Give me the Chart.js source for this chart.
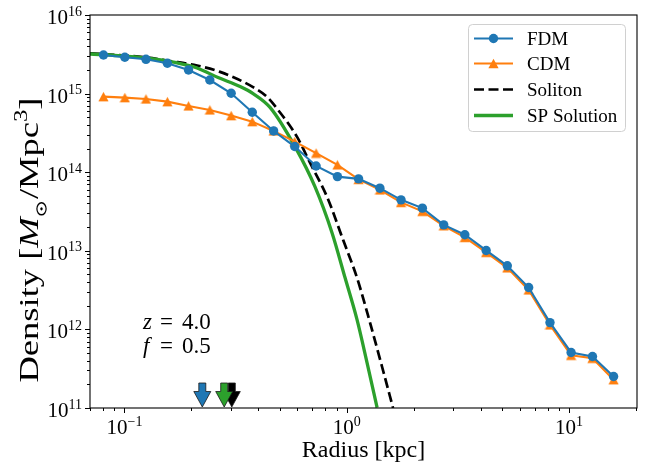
<!DOCTYPE html>
<html>
<head>
<meta charset="utf-8">
<script src="https://cdn.jsdelivr.net/npm/chart.js@4.4.1/dist/chart.umd.min.js"></script>
<style>
  html, body { margin: 0; padding: 0; background: #fff; }
  #wrap { width: 650px; height: 467px; }
</style>
</head>
<body>
<div id="wrap"><canvas id="chart" width="650" height="467"></canvas></div>
<script>
// radial bins (kpc) and density profiles (Msun / Mpc^3)
const radius = [0.0805, 0.1004, 0.1250, 0.1560, 0.1942, 0.2421, 0.3020, 0.3758, 0.4688, 0.5834,
  0.7278, 0.9078, 1.130, 1.409, 1.754, 2.188, 2.729, 3.396, 4.236, 5.272, 6.577, 8.204, 10.21, 12.74, 15.85];
const fdmDensity = [3.10e15, 2.90e15, 2.73e15, 2.43e15, 2.00e15, 1.49e15, 1.01e15, 5.79e14, 3.35e14, 2.12e14,
  1.20e14, 8.79e13, 8.22e13, 6.26e13, 4.45e13, 3.49e13, 2.14e13, 1.60e13, 1.01e13, 6.44e12, 3.41e12, 1.22e12, 5.09e11, 4.52e11, 2.52e11];
const cdmDensity = [9.15e14, 8.89e14, 8.55e14, 7.90e14, 6.97e14, 6.20e14, 5.25e14, 4.40e14, 3.35e14, 2.45e14,
  1.75e14, 1.24e14, 8.09e13, 5.95e13, 4.13e13, 3.18e13, 2.08e13, 1.48e13, 9.55e12, 6.07e12, 3.18e12, 1.14e12, 4.69e11, 4.30e11, 2.29e11];

const solitonR = [0.0700, 0.1264, 0.1603, 0.2121, 0.2692, 0.3789, 0.4381, 0.4909, 0.5976, 0.6840, 0.8154, 0.9625, 1.112, 1.273, 1.441, 1.615];
const solitonDensity = [3.26e15, 2.88e15, 2.60e15, 2.28e15, 1.89e15, 1.21e15, 9.07e14, 6.20e14, 2.81e14, 1.31e14, 4.85e13, 1.38e13, 4.53e12, 1.21e12, 3.35e11, 1.00e11];

const spR = [0.0700, 0.0936, 0.1264, 0.1689, 0.2121, 0.2637, 0.3311, 0.3789, 0.4518, 0.5855, 0.7200, 0.8588, 0.9826, 1.112, 1.234, 1.369];
const spDensity = [3.19e15, 3.04e15, 2.82e15, 2.49e15, 2.12e15, 1.60e15, 1.23e15, 1.00e15, 6.67e14, 2.10e14, 6.50e13, 1.69e13, 4.53e12, 1.33e12, 3.76e11, 1.01e11];

// core radius markers: soliton, SP solution, FDM
const arrowR = [0.304, 0.281, 0.224];

const xTickExps = [-1, 0, 1];
const yTickExps = [11, 12, 13, 14, 15, 16];
const legendLabels = ['FDM', 'CDM', 'Soliton', 'SP Solution'];
const noteVars = ['z', 'f'];
const noteVals = ['4.0', '0.5'];

const BLUE = '#1f77b4', ORANGE = '#ff7f0e', GREEN = '#2ca02c';
const SERIF = '"Liberation Serif", "DejaVu Serif", serif';

function pts(xs, ys) { return xs.map((x, i) => ({ x: x, y: ys[i] })); }

// matplotlib-like '^' marker (bbox centred)
function triangleMarker(color) {
  const c = document.createElement('canvas');
  c.width = 11; c.height = 11;
  const g = c.getContext('2d');
  g.fillStyle = color;
  g.beginPath();
  g.moveTo(5.5, 0.8); g.lineTo(10.6, 10.2); g.lineTo(0.4, 10.2);
  g.closePath(); g.fill();
  return c;
}
const triImg = triangleMarker(ORANGE);

function drawArrow(ctx, x, tip, color) {
  ctx.beginPath();
  ctx.moveTo(x - 3.5, tip - 24);
  ctx.lineTo(x + 3.5, tip - 24);
  ctx.lineTo(x + 3.5, tip - 15.5);
  ctx.lineTo(x + 8.5, tip - 15.5);
  ctx.lineTo(x, tip);
  ctx.lineTo(x - 8.5, tip - 15.5);
  ctx.lineTo(x - 3.5, tip - 15.5);
  ctx.closePath();
  ctx.fillStyle = color;
  ctx.fill();
  ctx.lineWidth = 0.8;
  ctx.strokeStyle = '#1a1a1a';
  ctx.stroke();
}

// draw a sequence of [text, font, dy, extra] pieces starting at x
function drawPieces(ctx, pieces, x, y) {
  pieces.forEach(p => {
    ctx.font = p[1];
    ctx.fillText(p[0], x, y + (p[2] || 0));
    x += ctx.measureText(p[0]).width + (p[3] || 0);
  });
  return x;
}
function piecesWidth(ctx, pieces) {
  let w = 0;
  pieces.forEach(p => { ctx.font = p[1]; w += ctx.measureText(p[0]).width + (p[3] || 0); });
  return w;
}

const decor = {
  id: 'decor',
  afterDatasetsDraw(chart) {
    const ctx = chart.ctx;
    const a = chart.chartArea;
    const xs = chart.scales.x, ys = chart.scales.y;
    ctx.save();

    // arrows marking core radii
    const arrowColors = ['#000000', GREEN, BLUE];
    arrowR.forEach((r, i) => drawArrow(ctx, xs.getPixelForValue(r), a.bottom - 1, arrowColors[i]));

    // frame
    ctx.strokeStyle = '#000';
    ctx.lineWidth = 1.1;
    ctx.strokeRect(a.left, a.top, a.right - a.left, a.bottom - a.top);

    // ticks
    ctx.lineWidth = 1;
    ctx.beginPath();
    for (let e = -2; e <= 2; e++) {
      for (let k = 1; k <= 9; k++) {
        const v = k * Math.pow(10, e);
        if (v < xs.min * 0.999 || v > xs.max * 1.001) continue;
        const px = Math.round(xs.getPixelForValue(v)) + 0.5;
        const len = k === 1 ? 5 : 3;
        ctx.moveTo(px, a.bottom); ctx.lineTo(px, a.bottom + len);
      }
    }
    for (let e = 11; e <= 16; e++) {
      for (let k = 1; k <= 9; k++) {
        const v = k * Math.pow(10, e);
        if (v > ys.max * 1.001) continue;
        const py = Math.round(ys.getPixelForValue(v)) + 0.5;
        const len = k === 1 ? 5 : 3;
        ctx.moveTo(a.left, py); ctx.lineTo(a.left - len, py);
      }
    }
    ctx.stroke();

    ctx.fillStyle = '#000';
    ctx.textBaseline = 'alphabetic';
    ctx.textAlign = 'left';
    const baseF = '21px ' + SERIF, supF = '14px ' + SERIF;

    // y tick labels
    yTickExps.forEach(e => {
      const py = ys.getPixelForValue(Math.pow(10, e));
      const pieces = [['10', baseF], [String(e), supF]];
      const w = piecesWidth(ctx, pieces);
      ctx.font = baseF;
      const x0 = 82 - w;
      ctx.fillText('10', x0, py + 9);
      const w10 = ctx.measureText('10').width;
      ctx.font = supF;
      ctx.fillText(String(e), x0 + w10, py + 0.5);
    });

    // x tick labels
    xTickExps.forEach(e => {
      const px = xs.getPixelForValue(Math.pow(10, e));
      const sup = String(e).replace('-', '\u2212');
      const pieces = [['10', baseF], [sup, supF]];
      const w = piecesWidth(ctx, pieces);
      ctx.font = baseF;
      const x0 = px - w / 2;
      ctx.fillText('10', x0, a.bottom + 25.5);
      const w10 = ctx.measureText('10').width;
      ctx.font = supF;
      ctx.fillText(sup, x0 + w10, a.bottom + 17.5);
    });

    // x axis title
    ctx.font = '24px ' + SERIF;
    ctx.textAlign = 'center';
    ctx.fillText('Radius [kpc]', (a.left + a.right) / 2, 457);
    ctx.textAlign = 'left';

    // y axis title (rotated, stretched along the baseline to the reference length)
    const lf = '28px ' + SERIF, li = 'italic 28px ' + SERIF, ls = '19px ' + SERIF;
    const sunW = 13;
    const left = [['Density [', lf], ['M', li, 0, 1]];
    const right = [['/Mpc', lf], ['3', ls, -11], [']', lf]];
    const totW = piecesWidth(ctx, left) + sunW + piecesWidth(ctx, right);
    const targetLen = 285;
    ctx.translate(38, 240);
    ctx.rotate(-Math.PI / 2);
    ctx.scale(targetLen / totW, 1);
    let cx = drawPieces(ctx, left, -totW / 2, 0);
    ctx.lineWidth = 1.2;
    ctx.beginPath();
    ctx.arc(cx + 5.5, 3.5, 4.6, 0, Math.PI * 2);
    ctx.stroke();
    ctx.beginPath();
    ctx.arc(cx + 5.5, 3.5, 1.2, 0, Math.PI * 2);
    ctx.fill();
    cx += sunW;
    drawPieces(ctx, right, cx, 0);
    ctx.setTransform(1, 0, 0, 1, 0, 0);

    // annotation
    const nf = '23px ' + SERIF, ni = 'italic 23px ' + SERIF;
    noteVars.forEach((v, i) => {
      const by = 329 + i * 24;
      ctx.font = ni; ctx.fillText(v, 143, by);
      ctx.font = nf; ctx.fillText('=', 160, by);
      ctx.fillText(noteVals[i], 182, by);
    });

    // legend
    const lx = 468.5, ly = 24.5, lw = 157, lh = 107, rr = 4;
    ctx.beginPath();
    ctx.moveTo(lx + rr, ly);
    ctx.arcTo(lx + lw, ly, lx + lw, ly + lh, rr);
    ctx.arcTo(lx + lw, ly + lh, lx, ly + lh, rr);
    ctx.arcTo(lx, ly + lh, lx, ly, rr);
    ctx.arcTo(lx, ly, lx + lw, ly, rr);
    ctx.closePath();
    ctx.fillStyle = 'rgba(255,255,255,0.8)';
    ctx.fill();
    ctx.strokeStyle = '#d0d0d0';
    ctx.lineWidth = 1;
    ctx.stroke();

    const rows = [38.5, 63.5, 89.5, 115.5];
    const byLabel = {};
    chart.data.datasets.forEach(d => { byLabel[d.label] = d; });
    legendLabels.forEach((lab, i) => {
      const d = byLabel[lab];
      const y = rows[i];
      ctx.save();
      ctx.strokeStyle = d.borderColor;
      ctx.lineWidth = d.borderWidth;
      ctx.setLineDash(d.borderDash || []);
      ctx.beginPath();
      ctx.moveTo(474, y); ctx.lineTo(513, y);
      ctx.stroke();
      ctx.restore();
      if (lab === 'FDM') {
        ctx.fillStyle = BLUE;
        ctx.beginPath(); ctx.arc(493.5, y, 4.7, 0, Math.PI * 2); ctx.fill();
      } else if (lab === 'CDM') {
        ctx.drawImage(triImg, 493.5 - 5.5, y - 5.5);
      }
      ctx.fillStyle = '#000';
      ctx.font = '19px ' + SERIF;
      ctx.fillText(lab, 527, y + 6);
    });

    ctx.restore();
  }
};

new Chart(document.getElementById('chart'), {
  type: 'line',
  data: {
    datasets: [
      { label: 'FDM', data: pts(radius, fdmDensity), borderColor: BLUE, backgroundColor: BLUE,
        borderWidth: 2.1, pointRadius: 4.7, pointBorderWidth: 0, pointStyle: 'circle', tension: 0 },
      { label: 'CDM', data: pts(radius, cdmDensity), borderColor: ORANGE, backgroundColor: ORANGE,
        borderWidth: 2.1, pointStyle: triImg, pointRadius: 5, tension: 0 },
      { label: 'SP Solution', data: pts(spR, spDensity), borderColor: GREEN, borderWidth: 3.3,
        pointRadius: 0, cubicInterpolationMode: 'monotone' },
      { label: 'Soliton', data: pts(solitonR, solitonDensity), borderColor: '#000000', borderWidth: 2.7,
        borderDash: [10, 4.5], pointRadius: 0, cubicInterpolationMode: 'monotone' }
    ]
  },
  options: {
    responsive: false,
    animation: false,
    devicePixelRatio: 1,
    layout: { padding: { left: 0, right: 13, top: 15, bottom: 0 } },
    plugins: { legend: { display: false }, tooltip: { enabled: false } },
    scales: {
      x: {
        type: 'logarithmic', min: 0.07, max: 20.2,
        ticks: { display: false }, grid: { display: false }, border: { display: false },
        afterFit(s) { s.height = 59; }
      },
      y: {
        type: 'logarithmic', min: 1e11, max: 1e16,
        ticks: { display: false }, grid: { display: false }, border: { display: false },
        afterFit(s) { s.width = 90; }
      }
    }
  },
  plugins: [decor]
});
</script>
</body>
</html>
